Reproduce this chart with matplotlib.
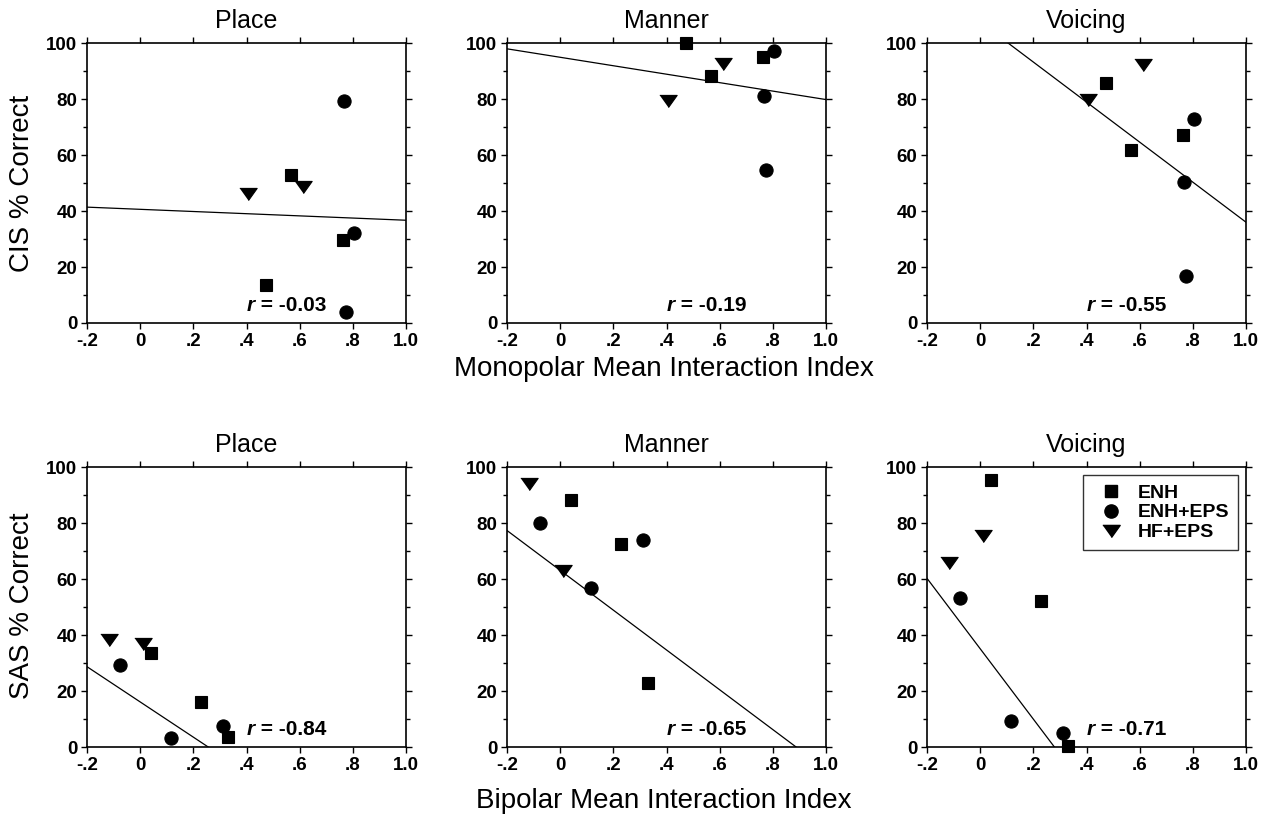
import matplotlib
matplotlib.use('Agg')
import numpy as np
import matplotlib.pyplot as plt
from matplotlib.lines import Line2D

plt.rcParams['font.family'] = ['Liberation Sans', 'DejaVu Sans']

# Interaction index (x) per group, monopolar and bipolar
mono_x_enh = [0.475, 0.567, 0.762]
mono_x_eps = [0.767, 0.806, 0.776]
mono_x_hf = [0.405, 0.612]
bi_x_enh = [0.041, 0.228, 0.330]
bi_x_eps = [-0.0775, 0.117, 0.311]
bi_x_hf = [-0.119, 0.011]

# CIS % correct (monopolar row)
cis_place_enh = [13.7, 53.0, 29.5]
cis_place_eps = [79.2, 32.1, 3.9]
cis_place_hf = [46.2, 48.6]
cis_manner_enh = [100.0, 88.1, 94.9]
cis_manner_eps = [81.0, 97.0, 54.5]
cis_manner_hf = [79.4, 92.5]
cis_voicing_enh = [85.7, 61.9, 67.0]
cis_voicing_eps = [50.2, 73.0, 16.7]
cis_voicing_hf = [79.5, 92.3]

# SAS % correct (bipolar row)
sas_place_enh = [33.5, 16.1, 3.6]
sas_place_eps = [29.3, 3.2, 7.4]
sas_place_hf = [38.1, 36.9]
sas_manner_enh = [88.1, 72.5, 22.9]
sas_manner_eps = [79.9, 56.8, 74.0]
sas_manner_hf = [94.0, 62.7]
sas_voicing_enh = [95.2, 52.2, 0.5]
sas_voicing_eps = [53.2, 9.2, 5.0]
sas_voicing_hf = [65.7, 75.5]

# regression lines (slope, intercept) and r values
fit_slopes = [-3.9, -15.1, -71.5, -62.9, -71.1, -125.7]
fit_intercepts = [40.6, 94.9, 107.5, 16.1, 63.1, 35.1]
r_values = ['-0.03', '-0.19', '-0.55', '-0.84', '-0.65', '-0.71']

titles = ['Place', 'Manner', 'Voicing']
group_names = ['ENH', 'ENH+EPS', 'HF+EPS']
x_ticks = [-0.2, 0, 0.2, 0.4, 0.6, 0.8, 1.0]
x_tick_labels = ['-.2', '0', '.2', '.4', '.6', '.8', '1.0']

tri = [(-1, 0.7), (1, 0.7), (0, -0.7)]
marker_styles = [dict(marker='s', ms=8.8), dict(marker='o', ms=9.5), dict(marker=tri, ms=12.5)]

panels = [
    (mono_x_enh, mono_x_eps, mono_x_hf, cis_place_enh, cis_place_eps, cis_place_hf),
    (mono_x_enh, mono_x_eps, mono_x_hf, cis_manner_enh, cis_manner_eps, cis_manner_hf),
    (mono_x_enh, mono_x_eps, mono_x_hf, cis_voicing_enh, cis_voicing_eps, cis_voicing_hf),
    (bi_x_enh, bi_x_eps, bi_x_hf, sas_place_enh, sas_place_eps, sas_place_hf),
    (bi_x_enh, bi_x_eps, bi_x_hf, sas_manner_enh, sas_manner_eps, sas_manner_hf),
    (bi_x_enh, bi_x_eps, bi_x_hf, sas_voicing_enh, sas_voicing_eps, sas_voicing_hf),
]

W, H = 1263, 814
fig = plt.figure(figsize=(W / 100, H / 100), dpi=100)

lefts = [87, 507, 927]
tops = [43, 467]
ax_w, ax_h = 319, 280

axes = []
for i, p in enumerate(panels):
    row, col = divmod(i, 3)
    ax = fig.add_axes([lefts[col] / W, 1 - (tops[row] + ax_h) / H, ax_w / W, ax_h / H])
    axes.append(ax)

    xs = np.array([-0.2, 1.0])
    ax.plot(xs, fit_intercepts[i] + fit_slopes[i] * xs, color='black', lw=0.9, zorder=2)

    for g in range(3):
        ax.plot(p[g], p[g + 3], ls='none', color='black', mec='black', mew=0.8,
                clip_on=False, zorder=3, **marker_styles[g])

    ax.text(0.4, 4.3, 'r', fontsize=15, fontweight='bold', fontstyle='italic', va='baseline')
    ax.annotate(' = ' + r_values[i], xy=(0.4, 4.3), xytext=(5.8, 0), textcoords='offset points',
                fontsize=15, fontweight='bold', va='baseline')

    ax.set_xlim(-0.2, 1.0)
    ax.set_ylim(0, 100)
    ax.set_xticks(x_ticks)
    ax.set_xticklabels(x_tick_labels)
    ax.set_yticks([0, 20, 40, 60, 80, 100])
    ax.set_yticks([10, 30, 50, 70, 90], minor=True)
    ax.tick_params(which='both', direction='out', top=True, right=True, width=1,
                   labelsize=13.5, pad=3)
    ax.tick_params(which='major', length=4)
    ax.tick_params(which='minor', length=3)
    for lab in ax.get_xticklabels() + ax.get_yticklabels():
        lab.set_fontweight('bold')
    for s in ax.spines.values():
        s.set_linewidth(1.2)
    ax.set_title(titles[col], fontsize=18, pad=10.5)

# legend in last panel
handles = [Line2D([], [], ls='none', color='black', **marker_styles[g]) for g in range(3)]
leg = axes[5].legend(handles, group_names, loc='upper right', frameon=True,
                     fancybox=False, edgecolor='black', handlelength=2.0, handletextpad=0.35,
                     borderpad=0.45, labelspacing=0.12, borderaxespad=0.42,
                     prop={'weight': 'bold', 'size': 14})
leg.get_frame().set_linewidth(1.0)

fig.text(22 / W, 1 - 183 / H, 'CIS % Correct', rotation=90, fontsize=20, ha='center', va='center')
fig.text(22 / W, 1 - 606 / H, 'SAS % Correct', rotation=90, fontsize=20, ha='center', va='center')
fig.text(664 / W, 1 - 376 / H, 'Monopolar Mean Interaction Index', fontsize=20, ha='center', va='baseline')
fig.text(664 / W, 1 - 808 / H, 'Bipolar Mean Interaction Index', fontsize=20, ha='center', va='baseline')

fig.savefig('out.png', dpi=100)
